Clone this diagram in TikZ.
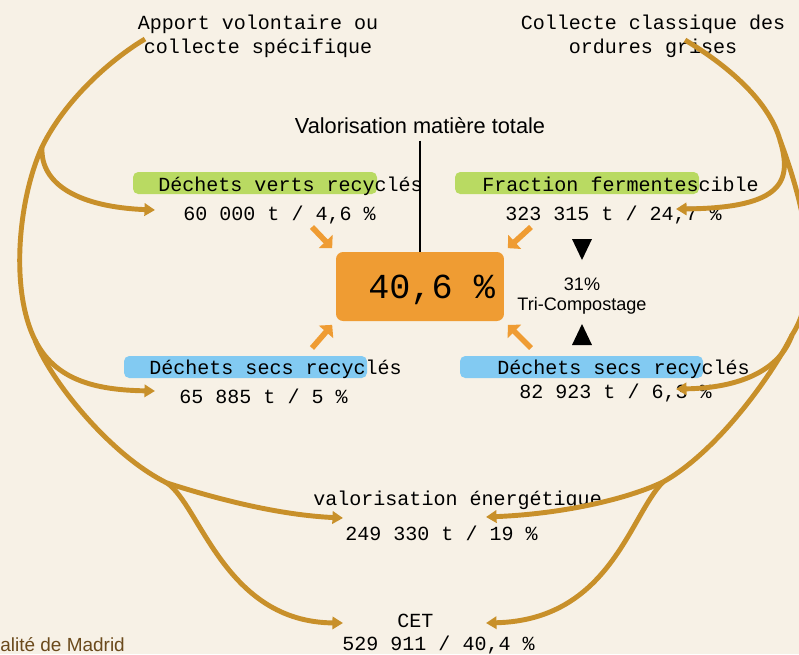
\documentclass[tikz,border=0pt]{standalone}
\usepackage{fontspec}
\setmonofont{Liberation Mono}
\newfontfamily\labelsans{Liberation Sans}
\usetikzlibrary{arrows.meta}
\definecolor{paper}{HTML}{F7F1E6}
\definecolor{gold}{HTML}{C8902A}
\definecolor{orangebox}{HTML}{EF9C33}
\definecolor{greenhl}{HTML}{B9DA62}
\definecolor{bluehl}{HTML}{82CAF2}
\definecolor{credit}{HTML}{6B4A1C}
\newcommand{\monotext}{\ttfamily\fontsize{11.4}{13.6}\selectfont}

\begin{document}
\begin{tikzpicture}[x=0.02cm,y=-0.02cm,
  txt/.style={font=\monotext,inner sep=0pt,anchor=base west},
  srctxt/.style={font=\monotext,inner sep=0pt,anchor=base,align=center},
  sans/.style 2 args={font=\labelsans\fontsize{#1}{#2}\selectfont,inner sep=0pt},
  hl/.style={rounded corners=3pt},
  pctbox/.style={fill=orangebox,rounded corners=4pt,minimum width=3.36cm,minimum height=1.38cm},
  flow/.style={draw=gold,line width=2.8pt},
  flowar/.style={flow,-{Triangle[length=6pt,width=7pt]}},
  feed/.style={draw=orangebox,line width=3.2pt,-{Triangle[length=5.3pt,width=10.6pt]}}
]
\fill[paper] (0,0) rectangle (799,654);
\useasboundingbox (0,0) rectangle (799,654);

% highlight bars behind the fraction labels
\fill[greenhl,hl] (133,172) rectangle (377,194);
\fill[greenhl,hl] (455,172) rectangle (699,194);
\fill[bluehl,hl] (124,356) rectangle (367,378);
\fill[bluehl,hl] (460,356) rectangle (703,378);

% sources (base = last line)
\node[srctxt] (apport) at (258,53) {Apport volontaire ou\\collecte spécifique};
\node[srctxt] (classique) at (653,53) {Collecte classique des\\ordures grises};

% recycled fractions
\node[txt] (verts) at (158,191) {Déchets verts recyclés};
\node[txt] (vertsv) at (183,220) {60 000 t / 4,6 \%};
\node[txt] (ferm) at (482,191) {Fraction fermentescible};
\node[txt] (fermv) at (505,220) {323 315 t / 24,7 \%};
\node[txt] (secsa) at (149,374) {Déchets secs recyclés};
\node[txt] (secsav) at (179,403) {65 885 t / 5 \%};
\node[txt] (secsb) at (497,374) {Déchets secs recyclés};
\node[txt] (secsbv) at (519,398) {82 923 t / 6,3 \%};

% total
\node[sans={12.4}{15},anchor=base] (vmt) at (420,133) {Valorisation matière totale};
\node[pctbox] (pct) at (420,286.5) {};
\node[font=\ttfamily\fontsize{20}{24}\selectfont,inner sep=0pt,anchor=base west] (pcttxt) at (368,298) {40,6 \%};
\draw[line width=1.2pt] ([yshift=-4pt]vmt.south) -- (vmt.south |- pct.north);

% feeds into the total
\draw[feed] (312,227) -- ([shift={(-2pt,2pt)}]pct.north west);
\draw[feed] (531,227) -- ([shift={(2pt,2pt)}]pct.north east);
\draw[feed] (312,348) -- ([shift={(-2pt,-2pt)}]pct.south west);
\draw[feed] (531,348) -- ([shift={(2pt,-2pt)}]pct.south east);

% tri-compostage share
\node[sans={10.3}{11.3},anchor=base,align=center] (tri) at (582,310) {31\%\\Tri-Compostage};
\fill (572,239) -- (592,239) -- (582,260) -- cycle;
\fill (572,345) -- (592,345) -- (582,324) -- cycle;

% energy recovery and landfill
\node[txt] (energie) at (313,505) {valorisation énergétique};
\node[txt] (energiev) at (345,540) {249 330 t / 19 \%};
\node[txt] (cet) at (397,627) {CET};
\node[txt] (cetv) at (342,650) {529 911 / 40,4 \%};

\node[sans={10.8}{13},text=credit,anchor=base west] (credit) at (0,651) {alité de Madrid};

% flows
\coordinate (a0) at (145,39);
\coordinate (j1) at (42,147);
\coordinate (j2) at (35,340);
\coordinate (j3) at (167,483);
\coordinate (b0) at (685,40);
\coordinate (k1) at (780,140);
\coordinate (k2) at (792,335);
\coordinate (k3) at (663,482);
\begin{scope}
\clip (0,0) rectangle (799,654);
\draw[flow] (a0) .. controls (110,60) and (65,100) .. (j1)
  .. controls (18,200) and (10,290) .. (j2)
  .. controls (50,380) and (110,455) .. (j3);
\draw[flowar] (j1) .. controls (40,185) and (80,207) .. (155,210);
\draw[flowar] (j2) .. controls (55,380) and (95,390) .. (155,391);
\draw[flowar] (j3) .. controls (220,500) and (280,515) .. (343,518);
\draw[flowar] (j3) .. controls (200,505) and (225,622) .. (343,623);
\draw[flow] (b0) .. controls (735,70) and (770,105) .. (k1)
  .. controls (810,220) and (820,292) .. (k2)
  .. controls (775,370) and (720,450) .. (k3);
\draw[flowar] (k1) .. controls (792,180) and (785,208) .. (676,209);
\draw[flowar] (k2) .. controls (780,370) and (740,388) .. (676,389);
\draw[flowar] (k3) .. controls (625,500) and (560,514) .. (486,517);
\draw[flowar] (k3) .. controls (630,515) and (610,620) .. (486,623);
\end{scope}
\end{tikzpicture}
\end{document}
